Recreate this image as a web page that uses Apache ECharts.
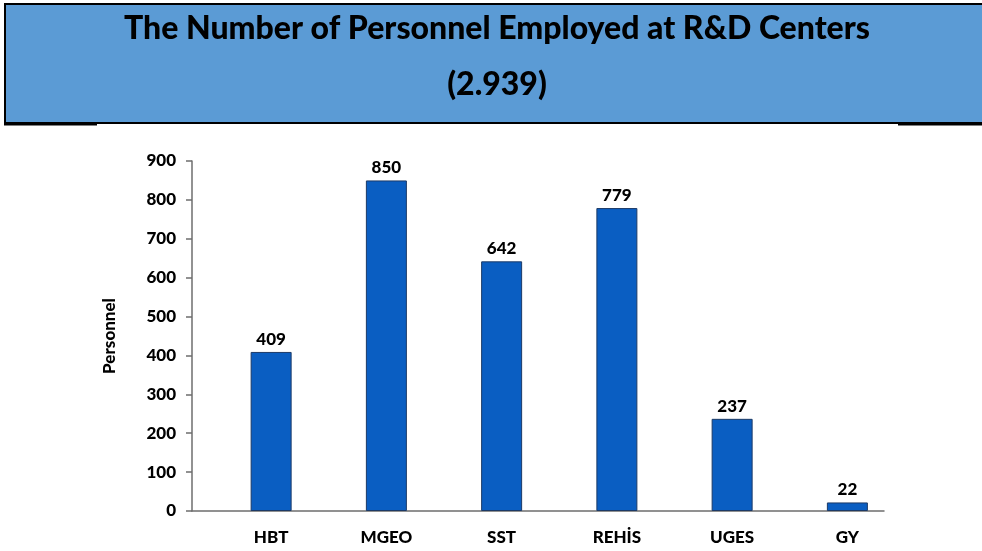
<!DOCTYPE html>
<html>
<head>
<meta charset="utf-8">
<script src="https://cdn.jsdelivr.net/npm/echarts@6/dist/echarts.min.js"></script>
<style>html,body{margin:0;padding:0;background:#fff;}#c{width:982px;height:551px;}</style>
</head>
<body>
<div id="c"></div>
<script>
const titleLine1 = 'The Number of Personnel Employed at R&D Centers';
const titleLine2 = '(2.939)';
const categories = ['HBT', 'MGEO', 'SST', 'REHİS', 'UGES', 'GY'];
const personnel = [409, 850, 642, 779, 237, 22];
const yTicks = [0, 100, 200, 300, 400, 500, 600, 700, 800, 900];
const yName = 'Personnel';

const FONT = 'Lato';
const chart = echarts.init(document.getElementById('c'), null, {renderer: 'canvas'});
const yMax = yTicks[yTicks.length - 1];
const yStep = yTicks[1] - yTicks[0];

chart.setOption({
  backgroundColor: '#ffffff',
  animation: false,
  textStyle: {fontFamily: FONT},
  graphic: [
    {type: 'rect', shape: {x: 4, y: 3, width: 978, height: 121}, style: {fill: '#5b9bd5'}, z: 0},
    {type: 'rect', shape: {x: 4, y: 3, width: 978, height: 2}, style: {fill: '#000'}, z: 1},
    {type: 'rect', shape: {x: 4, y: 3, width: 2, height: 121}, style: {fill: '#000'}, z: 1},
    {type: 'rect', shape: {x: 4, y: 122, width: 978, height: 2}, style: {fill: '#000'}, z: 1},
    {type: 'rect', shape: {x: 4, y: 123, width: 93, height: 2.5}, style: {fill: '#000'}, z: 1},
    {type: 'rect', shape: {x: 898, y: 123, width: 84, height: 2.5}, style: {fill: '#000'}, z: 1},
    {type: 'text', x: 497, y: 29, style: {text: titleLine1, fill: '#000', font: '900 32px ' + FONT, align: 'center', verticalAlign: 'middle'}, z: 2},
    {type: 'text', x: 497, y: 85, style: {text: titleLine2, fill: '#000', font: '900 32px ' + FONT, align: 'center', verticalAlign: 'middle'}, z: 2}
  ],
  grid: [
    {left: 213.5, right: 77, top: 161, bottom: 40},
    {left: 192, right: 98, top: 161, bottom: 40}
  ],
  xAxis: [
    {
      type: 'category', gridIndex: 0, data: categories,
      axisLine: {show: false}, axisTick: {show: false},
      axisLabel: {color: '#000', fontFamily: FONT, fontWeight: 900, fontSize: 17, margin: 18}
    },
    {
      type: 'category', gridIndex: 1, data: categories,
      axisLine: {show: true, lineStyle: {color: '#6e6e6e', width: 1.5}},
      axisTick: {show: false}, axisLabel: {show: false}
    }
  ],
  yAxis: [
    {
      type: 'value', gridIndex: 0, min: 0, max: yMax, interval: yStep, show: false
    },
    {
      type: 'value', gridIndex: 1, min: 0, max: yMax, interval: yStep,
      name: yName, nameLocation: 'middle', nameGap: 74,
      nameTextStyle: {color: '#000', fontFamily: FONT, fontWeight: 900, fontSize: 17},
      axisLine: {show: true, lineStyle: {color: '#6e6e6e', width: 1.5}},
      axisTick: {show: true, length: 6, lineStyle: {color: '#6e6e6e', width: 1.5}},
      splitLine: {show: false},
      axisLabel: {color: '#000', fontFamily: FONT, fontWeight: 900, fontSize: 17, margin: 16}
    }
  ],
  series: [
    {
      type: 'bar', xAxisIndex: 0, yAxisIndex: 0, data: personnel,
      barWidth: 41,
      itemStyle: {color: '#0a5ec2', borderColor: '#1c3a66', borderWidth: 1},
      label: {show: true, position: 'top', distance: 4, color: '#000', fontFamily: FONT, fontWeight: 900, fontSize: 17}
    }
  ]
});
</script>
</body>
</html>
